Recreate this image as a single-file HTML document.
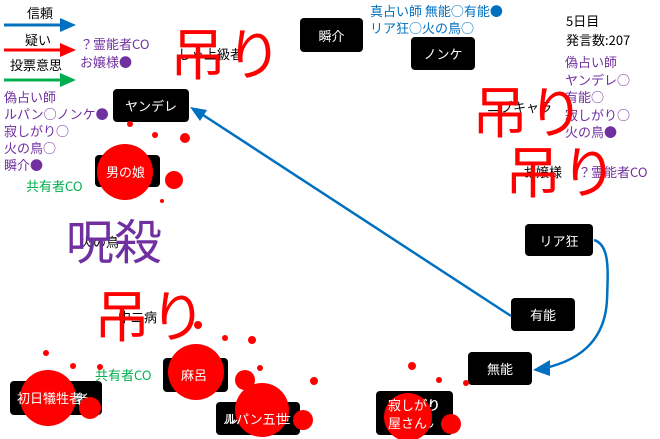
<!DOCTYPE html>
<html><head><meta charset="utf-8"><style>
body{margin:0;width:660px;height:439px;background:#fff;overflow:hidden;position:relative;font-family:"Noto Sans CJK JP","Liberation Sans",sans-serif}
.t{position:absolute;white-space:nowrap;font-size:13px;line-height:17px}
.p{color:#7030a0}.b{color:#0070c0}.g{color:#00b050}.k{color:#000}
.n{position:absolute;background:#000;color:#fff;border-radius:4px;font-size:13px;display:flex;align-items:center;justify-content:center;text-align:center;line-height:17px}
.big{position:absolute;white-space:nowrap;color:#f00;font-size:56px;line-height:60px}
svg{position:absolute;left:0;top:0}
</style></head><body>
<svg width="660" height="439" style="z-index:1">
<line x1="4" y1="25" x2="62" y2="25" stroke="#0070c0" stroke-width="3"/><path d="M60,18L76,25L60,32z" fill="#0070c0"/>
<line x1="4" y1="50" x2="62" y2="50" stroke="#f00" stroke-width="3"/><path d="M60,43L76,50L60,57z" fill="#f00"/>
<line x1="4" y1="80" x2="62" y2="80" stroke="#00b050" stroke-width="3"/><path d="M60,73L76,80L60,87z" fill="#00b050"/>
<line x1="511" y1="316" x2="200" y2="113" stroke="#0070c0" stroke-width="2.5"/><path d="M190,107L207,110L200,121z" fill="#0070c0"/>
<path d="M594,240C610,245 608,270 607,300C605,340 580,360 545,368" fill="none" stroke="#0070c0" stroke-width="2.5"/><path d="M533,370L550,360L550,376z" fill="#0070c0"/>
</svg>
<div class="t k" style="left:27px;top:4px">信頼</div>
<div class="t k" style="left:25px;top:31px">疑い</div>
<div class="t k" style="left:10px;top:56px">投票意思</div>
<div class="t p" style="left:80px;top:35px">？霊能者CO</div>
<div class="t p" style="left:80px;top:53px">お嬢様●</div>
<div class="t p" style="left:4px;top:88px">偽占い師<br>ルパン○ノンケ●<br>寂しがり○<br>火の鳥○<br>瞬介●</div>
<div class="t g" style="left:26px;top:177px">共有者CO</div>
<div class="t k" style="left:178px;top:45px">しゃ上級者</div>
<div class="big" style="left:170px;top:22px">吊り</div>
<div class="t b" style="left:370px;top:2px">真占い師 無能○有能●<br>リア狂○火の鳥○</div>
<div class="t k" style="left:566px;top:11px;line-height:19px">5日目<br>発言数:207</div>
<div class="t p" style="left:565px;top:53px;line-height:17.5px">偽占い師<br>ヤンデレ○<br>有能○<br>寂しがり○<br>火の鳥●</div>
<div class="t k" style="left:487px;top:98px">ニブキャラ</div>
<div class="big" style="left:472px;top:80px">吊り</div>
<div class="t k" style="left:523px;top:163px">お嬢様</div>
<div class="t p" style="left:578px;top:163px">？霊能者CO</div>
<div class="big" style="left:505px;top:140px">吊り</div>
<div class="t k" style="left:80px;top:233px">火の鳥</div>
<div class="big" style="left:66px;top:208px;color:#7030a0;font-size:48px">呪殺</div>
<div class="t k" style="left:118px;top:308px">中二病</div>
<div class="big" style="left:94px;top:284px">吊り</div>
<div class="t g" style="left:95px;top:366px">共有者CO</div>
<div class="n" style="left:300px;top:18px;width:63px;height:34px">瞬介</div>
<div class="n" style="left:411px;top:37px;width:64px;height:33px">ノンケ</div>
<div class="n" style="left:113px;top:89px;width:76px;height:33px">ヤンデレ</div>
<div class="n" style="left:95px;top:155px;width:65px;height:32px">男の娘</div>
<div class="n" style="left:10px;top:381px;width:92px;height:34px">初日犠牲者</div>
<div class="n" style="left:163px;top:358px;width:65px;height:34px">麻呂</div>
<div class="n" style="left:216px;top:402px;width:84px;height:33px">ルパン五世</div>
<div class="n" style="left:525px;top:224px;width:68px;height:32px">リア狂</div>
<div class="n" style="left:511px;top:298px;width:64px;height:33px">有能</div>
<div class="n" style="left:468px;top:352px;width:64px;height:33px">無能</div>
<div class="n" style="left:376px;top:391px;width:77px;height:44px">寂しがり<br>屋さん</div>
<svg width="660" height="439" style="z-index:2;pointer-events:none">
<g fill="#f00">
<circle cx="125" cy="172" r="28"/><circle cx="174" cy="180" r="9"/><circle cx="185" cy="138" r="5"/><circle cx="155" cy="135" r="3"/><circle cx="130" cy="124" r="3"/><circle cx="162" cy="201" r="2"/>
<circle cx="48" cy="398" r="28"/><circle cx="90" cy="408" r="11"/><circle cx="46" cy="353" r="3"/><circle cx="73" cy="366" r="3"/><circle cx="100" cy="367" r="3"/>
<circle cx="196" cy="372" r="28"/><circle cx="198" cy="325" r="4"/><circle cx="225" cy="338" r="3"/><circle cx="252" cy="340" r="4"/><circle cx="260" cy="368" r="3"/>
<circle cx="262" cy="410" r="27"/><circle cx="245" cy="380" r="10"/><circle cx="303" cy="420" r="10"/><circle cx="314" cy="381" r="4"/>
<circle cx="408" cy="417" r="24"/><circle cx="451" cy="424" r="10"/><circle cx="412" cy="366" r="4"/><circle cx="439" cy="380" r="3"/><circle cx="466" cy="383" r="3"/>
</g></svg>
<div class="t" style="z-index:3;color:#fff;left:106px;top:163px">男の娘</div>
<div class="t" style="z-index:3;color:#fff;left:17px;top:389px">初日犠牲者</div>
<div class="t" style="z-index:3;color:#fff;left:181px;top:366px">麻呂</div>
<div class="t" style="z-index:3;color:#fff;left:223px;top:410px">ルパン五世</div>
<div class="t" style="z-index:3;color:#fff;left:388px;top:396px;line-height:18px">寂しがり<br>屋さん</div>
</body></html>
